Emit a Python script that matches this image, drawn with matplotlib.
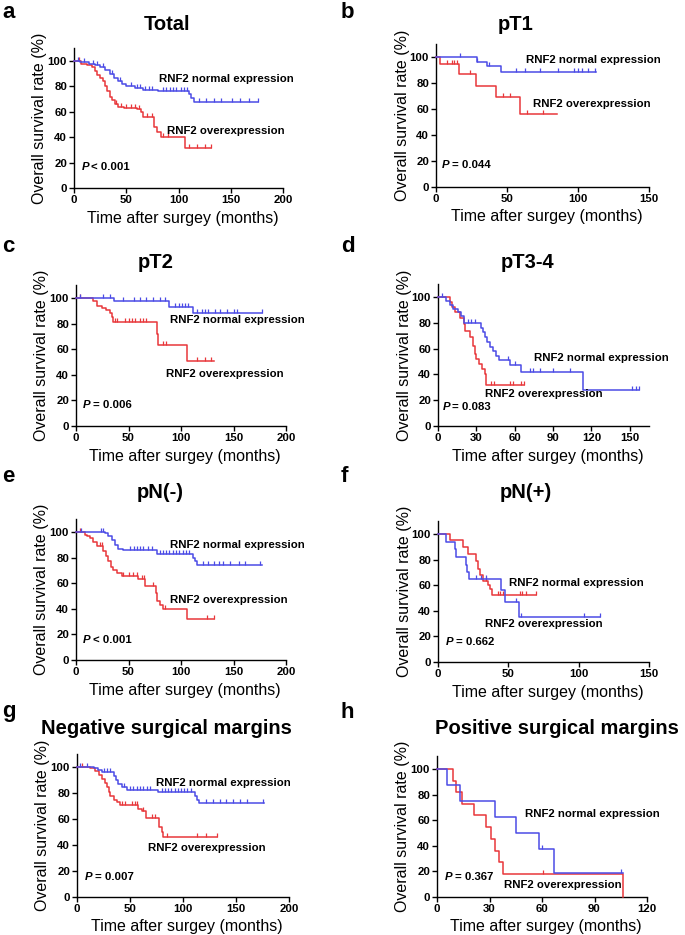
import matplotlib
matplotlib.use("Agg")
import matplotlib.pyplot as plt
import numpy as np

plt.rcParams['font.family'] = ['Liberation Sans', 'DejaVu Sans']

BLUE = '#4b4be6'
RED = '#e8373a'

# ---------------- data (months, survival %) ----------------
# a: Total
a_norm_t = [6, 14, 20, 25, 30, 34, 38, 42, 46, 50, 58, 66, 80, 110, 112, 115]
a_norm_s = [99, 98, 97, 95, 93, 90, 87, 84, 82, 80, 79, 77, 76, 74, 71, 67.5]
a_norm_end = 176
a_norm_cens = [4, 10, 18, 22, 28, 36, 44, 55, 60, 63, 68, 72, 75, 85, 88, 92, 95, 98, 102, 105,
               108, 120, 126, 134, 141, 151, 159, 167, 176]
a_over_t = [7, 12, 17, 20, 22, 25, 28, 30, 32, 34, 36, 39, 42, 48, 60, 64, 66, 77, 79, 83, 106]
a_over_s = [98, 97, 95, 92, 89, 87, 84, 80, 76, 72, 69, 66, 64, 63, 62, 60, 56, 48, 44, 40, 31.5]
a_over_end = 131
a_over_cens = [5, 40, 45, 50, 55, 58, 62, 70, 75, 85, 90, 110, 118, 125, 131]

# b: pT1
b_norm_t = [29, 36, 46]
b_norm_s = [96.5, 93, 88.5]
b_norm_end = 113
b_norm_cens = [17, 29, 37, 56, 63, 73, 86, 97, 100, 103, 107, 112]
b_over_t = [3, 16, 28, 42, 59]
b_over_s = [94.5, 87, 78, 69, 56]
b_over_end = 85
b_over_cens = [8, 11, 13, 15, 24, 47, 52, 64, 75]

# c: pT2
c_norm_t = [36, 89, 111]
c_norm_s = [97.3, 93, 88.5]
c_norm_end = 177
c_norm_cens = [4, 26, 32, 45, 55, 61, 67, 73, 80, 85, 94, 98, 101, 104, 107, 115, 120, 123, 126,
               132, 137, 144, 150, 153, 177]
c_over_t = [16.5, 19.7, 24.4, 29, 32.4, 34, 35.5, 76.8, 78.4, 106]
c_over_s = [98, 94, 92, 90.5, 88, 85, 81, 72, 63, 50.5]
c_over_end = 131
c_over_cens = [4, 37, 39, 47, 50, 53, 56, 61, 64, 67, 83, 86, 115, 123, 129]

# d: pT3-4
d_norm_t = [6.5, 9, 11.7, 15.6, 18, 20, 34, 35, 36.5, 38, 40.4, 43, 45.6, 47.7, 56.6, 65, 113.5]
d_norm_s = [97, 94, 91, 88, 85, 80, 76, 73, 69, 65, 61, 58, 54, 51, 47, 42, 28]
d_norm_end = 157
d_norm_cens = [3, 23.5, 26, 28.7, 55, 60, 72, 74, 80, 90, 103, 152, 155, 157]
d_over_t = [9, 11.2, 13, 17, 20, 21, 25.3, 27.4, 28.7, 30, 32, 34.7, 36.5, 37.8]
d_over_s = [96, 92, 88, 84, 79, 74, 69, 62, 56, 52, 48, 44, 40, 31.5]
d_over_end = 67
d_over_cens = [41.7, 43.6, 56, 58.7, 65, 67]

# e: pN(-)
e_norm_t = [27.6, 30.8, 34, 37, 40.3, 45, 76.8, 111, 113, 115]
e_norm_s = [99, 97, 94, 90, 87, 86, 83, 80, 77, 74]
e_norm_end = 177
e_norm_cens = [5, 24, 26, 51, 55, 58, 61, 64, 69, 72, 80, 83, 86, 89, 92, 95, 98, 102, 105, 108,
               121, 126, 131, 136, 140, 147, 155, 161, 175]
e_over_t = [8.6, 10.8, 13.3, 16.5, 19.7, 26, 28.6, 30.8, 33, 35.5, 38.7, 43.5, 59.4, 65.7, 75.9,
            77.5, 80, 82.5, 105.4]
e_over_s = [98, 97, 95, 92, 89, 85, 81, 77, 73, 70, 68, 66, 63, 58, 52, 46, 43, 40, 32]
e_over_end = 131
e_over_cens = [4, 23, 24.5, 45, 50, 54.6, 57.8, 62.5, 64.8, 73.7, 84.8, 124.4, 131]

# f: pN(+)
f_norm_t = [5.9, 11.8, 13, 19.7, 20.6, 22, 45, 47.9, 57.3]
f_norm_s = [94, 88, 82, 76, 70, 64.5, 56, 47, 35]
f_norm_end = 115
f_norm_cens = [27, 30.8, 34, 55.7, 59.2, 104, 115]
f_over_t = [8.3, 17.8, 21.3, 26.8, 28.4, 29.6, 32, 35.5, 37.2, 38.6]
f_over_s = [95, 89.5, 84, 79, 73, 68, 63, 60, 57, 52]
f_over_end = 70
f_over_cens = [34.4, 42.7, 43.8, 46.2, 58, 60, 62.8, 70]

# g: Negative surgical margins
g_norm_t = [15.7, 20, 23.5, 34.5, 37, 39, 42.3, 47, 76.8, 111, 113.5, 115]
g_norm_s = [99, 97.5, 96, 93, 90, 87, 85, 82, 80.5, 78, 75, 72.5]
g_norm_end = 176.5
g_norm_cens = [3, 9, 25, 28, 31, 44, 50, 53, 56.4, 59.6, 62.7, 66, 69, 80, 83, 86, 89, 92, 95, 98,
               101, 104, 108, 122, 128.5, 135, 141, 147, 153.6, 160, 175.5]
g_over_t = [12.5, 17, 20.4, 23.5, 26.6, 28, 29.8, 31, 34.5, 37.6, 40.8, 58, 61, 65, 77.4, 80, 81.5]
g_over_s = [99, 97, 94, 91, 88, 85, 81, 78, 75, 73, 71, 68, 66, 61, 54, 50, 46]
g_over_end = 131.7
g_over_cens = [4.7, 42.3, 45.5, 51.7, 55, 56.4, 62.7, 70.5, 73.7, 84.6, 112.9, 122, 131.7]

# h: Positive surgical margins
h_norm_t = [5.7, 13.3, 33, 45.3, 58, 66.9]
h_norm_s = [87.5, 75, 62.5, 50, 37.5, 18.75]
h_norm_end = 106
h_norm_cens = [60.2, 105.3]
h_over_t = [9.1, 10.7, 14.5, 21, 27.8, 31, 33, 35.4, 37.7, 106.3]
h_over_s = [91, 82, 73, 64, 54.5, 45.5, 36, 27, 18, 0]
h_over_end = 106.3
h_over_cens = [60.6]

titles = ['Total', 'pT1', 'pT2', 'pT3-4', 'pN(-)', 'pN(+)',
          'Negative surgical margins', 'Positive surgical margins']
letters = ['a', 'b', 'c', 'd', 'e', 'f', 'g', 'h']
pvalues = ['< 0.001', '= 0.044', '= 0.006', '= 0.083', '< 0.001', '= 0.662', '= 0.007', '= 0.367']
xmax_ticks = [200, 150, 200, 150, 200, 150, 200, 120]
xstep = [50, 50, 50, 30, 50, 50, 50, 30]
label_norm = 'RNF2 normal expression'
label_over = 'RNF2 overexpression'

curves = {
    'a': (a_norm_t, a_norm_s, a_norm_end, a_norm_cens, a_over_t, a_over_s, a_over_end, a_over_cens),
    'b': (b_norm_t, b_norm_s, b_norm_end, b_norm_cens, b_over_t, b_over_s, b_over_end, b_over_cens),
    'c': (c_norm_t, c_norm_s, c_norm_end, c_norm_cens, c_over_t, c_over_s, c_over_end, c_over_cens),
    'd': (d_norm_t, d_norm_s, d_norm_end, d_norm_cens, d_over_t, d_over_s, d_over_end, d_over_cens),
    'e': (e_norm_t, e_norm_s, e_norm_end, e_norm_cens, e_over_t, e_over_s, e_over_end, e_over_cens),
    'f': (f_norm_t, f_norm_s, f_norm_end, f_norm_cens, f_over_t, f_over_s, f_over_end, f_over_cens),
    'g': (g_norm_t, g_norm_s, g_norm_end, g_norm_cens, g_over_t, g_over_s, g_over_end, g_over_cens),
    'h': (h_norm_t, h_norm_s, h_norm_end, h_norm_cens, h_over_t, h_over_s, h_over_end, h_over_cens),
}

# ---------------- layout (pixels) ----------------
W, H = 685, 935
# left, right, bottom(y=0), y=100 pixel, xlim max
geom = {
    'a': (74, 283, 188, 61, 200),
    'b': (436, 649, 187, 57, 150),
    'c': (76, 286, 426, 298, 200),
    'd': (438, 649, 426, 297, 165),
    'e': (76, 286, 660, 532, 200),
    'f': (438, 649, 662, 534, 150),
    'g': (77, 289, 897, 767, 200),
    'h': (437, 647, 897, 769, 120),
}
title_pos = {'a': (167, 25), 'b': (516, 25), 'c': (156, 262), 'd': (528, 262),
             'e': (160, 492), 'f': (526, 492), 'g': (166, 728), 'h': (557, 728)}
letter_pos = {'a': (2, 12), 'b': (341, 12), 'c': (2, 247), 'd': (341, 247),
              'e': (2, 477), 'f': (341, 477), 'g': (2, 712), 'h': (341, 712)}
# text positions in data coords: normal label, over label, P value
text_pos = {
    'a': ((81, 86), (89, 45), (7, 16.5)),
    'b': ((63.5, 97.4), (68, 63.6), (4.2, 16.7)),
    'c': ((90, 82.6), (86, 40.5), (6.3, 16.4)),
    'd': ((75, 53), (37, 24.5), (3.4, 14.7)),
    'e': ((89.5, 89.6), (89.5, 46.8), (6.3, 15.6)),
    'f': ((50.5, 61.6), (33.6, 29.9), (5.5, 15.3)),
    'g': ((75, 87.6), (67.4, 37.9), (7.8, 15.5)),
    'h': ((50.5, 64.8), (38.3, 9.7), (4.4, 15.7)),
}

fig = plt.figure(figsize=(W / 100, H / 100), dpi=100)

cens_marker = [(0, 0), (0, 1)]


def km_draw(ax, t, s, end, cens, color):
    xs = [0] + list(t) + [end]
    ys = [100] + list(s) + [s[-1]]
    ax.step(xs, ys, where='post', color=color, lw=1.1, zorder=3, clip_on=False)
    tt = np.array([0] + list(t))
    ss = np.array([100] + list(s))
    cy = [ss[np.searchsorted(tt, c, side='right') - 1] for c in cens]
    ax.plot(cens, cy, linestyle='none', marker=cens_marker, markersize=6,
            markeredgewidth=0.9, color=color, zorder=3, clip_on=False)


for i, key in enumerate(letters):
    L, R, B, y100, xmax = geom[key]
    k = (B - y100) / 100.0
    T = B - 110 * k
    ax = fig.add_axes([L / W, 1 - B / H, (R - L) / W, (B - T) / H])
    ax.set_xlim(0, xmax)
    ax.set_ylim(0, 110)
    ax.spines['top'].set_visible(False)
    ax.spines['right'].set_visible(False)
    for sp in ('left', 'bottom'):
        ax.spines[sp].set_linewidth(1.0)
    ax.set_xticks(np.arange(0, xmax_ticks[i] + 1, xstep[i]))
    ax.set_yticks(np.arange(0, 101, 20))
    ax.tick_params(direction='out', length=3.5, width=1.0, pad=1.5, labelsize=8.2)
    for lab in ax.get_xticklabels() + ax.get_yticklabels():
        lab.set_fontweight('bold')
    ax.patch.set_alpha(0)

    nt, ns, ne, nc, ot, os_, oe, oc = curves[key]
    km_draw(ax, ot, os_, oe, oc, RED)
    km_draw(ax, nt, ns, ne, nc, BLUE)

    (nx, ny), (ox, oy), (px, py) = text_pos[key]
    ax.text(nx, ny, label_norm, fontsize=8.2, fontweight='bold', ha='left', va='center', zorder=5)
    ax.text(ox, oy, label_over, fontsize=8.2, fontweight='bold', ha='left', va='center', zorder=5)
    ax.text(px, py, 'P', fontsize=8.2, fontweight='bold', fontstyle='italic', ha='left', va='center')
    ax.annotate(pvalues[i], xy=(px, py), xytext=(7.3, 0), textcoords='offset points',
                fontsize=8.2, fontweight='bold', ha='left', va='center')

    # axis labels
    fig.text((L - 34) / W, 1 - ((B + T) / 2) / H, 'Overall survival rate (%)', rotation=90,
             fontsize=11.5, ha='center', va='center')
    fig.text(((L + R) / 2 + 4) / W, 1 - (B + 30) / H, 'Time after surgey (months)',
             fontsize=11.5, ha='center', va='center')

    tx, ty = title_pos[key]
    fig.text(tx / W, 1 - ty / H, titles[i], fontsize=14.5, fontweight='bold', ha='center', va='center')
    lx, ly = letter_pos[key]
    fig.text(lx / W, 1 - ly / H, key, fontsize=16, fontweight='bold', ha='left', va='center')

fig.savefig('out.png', dpi=100)
